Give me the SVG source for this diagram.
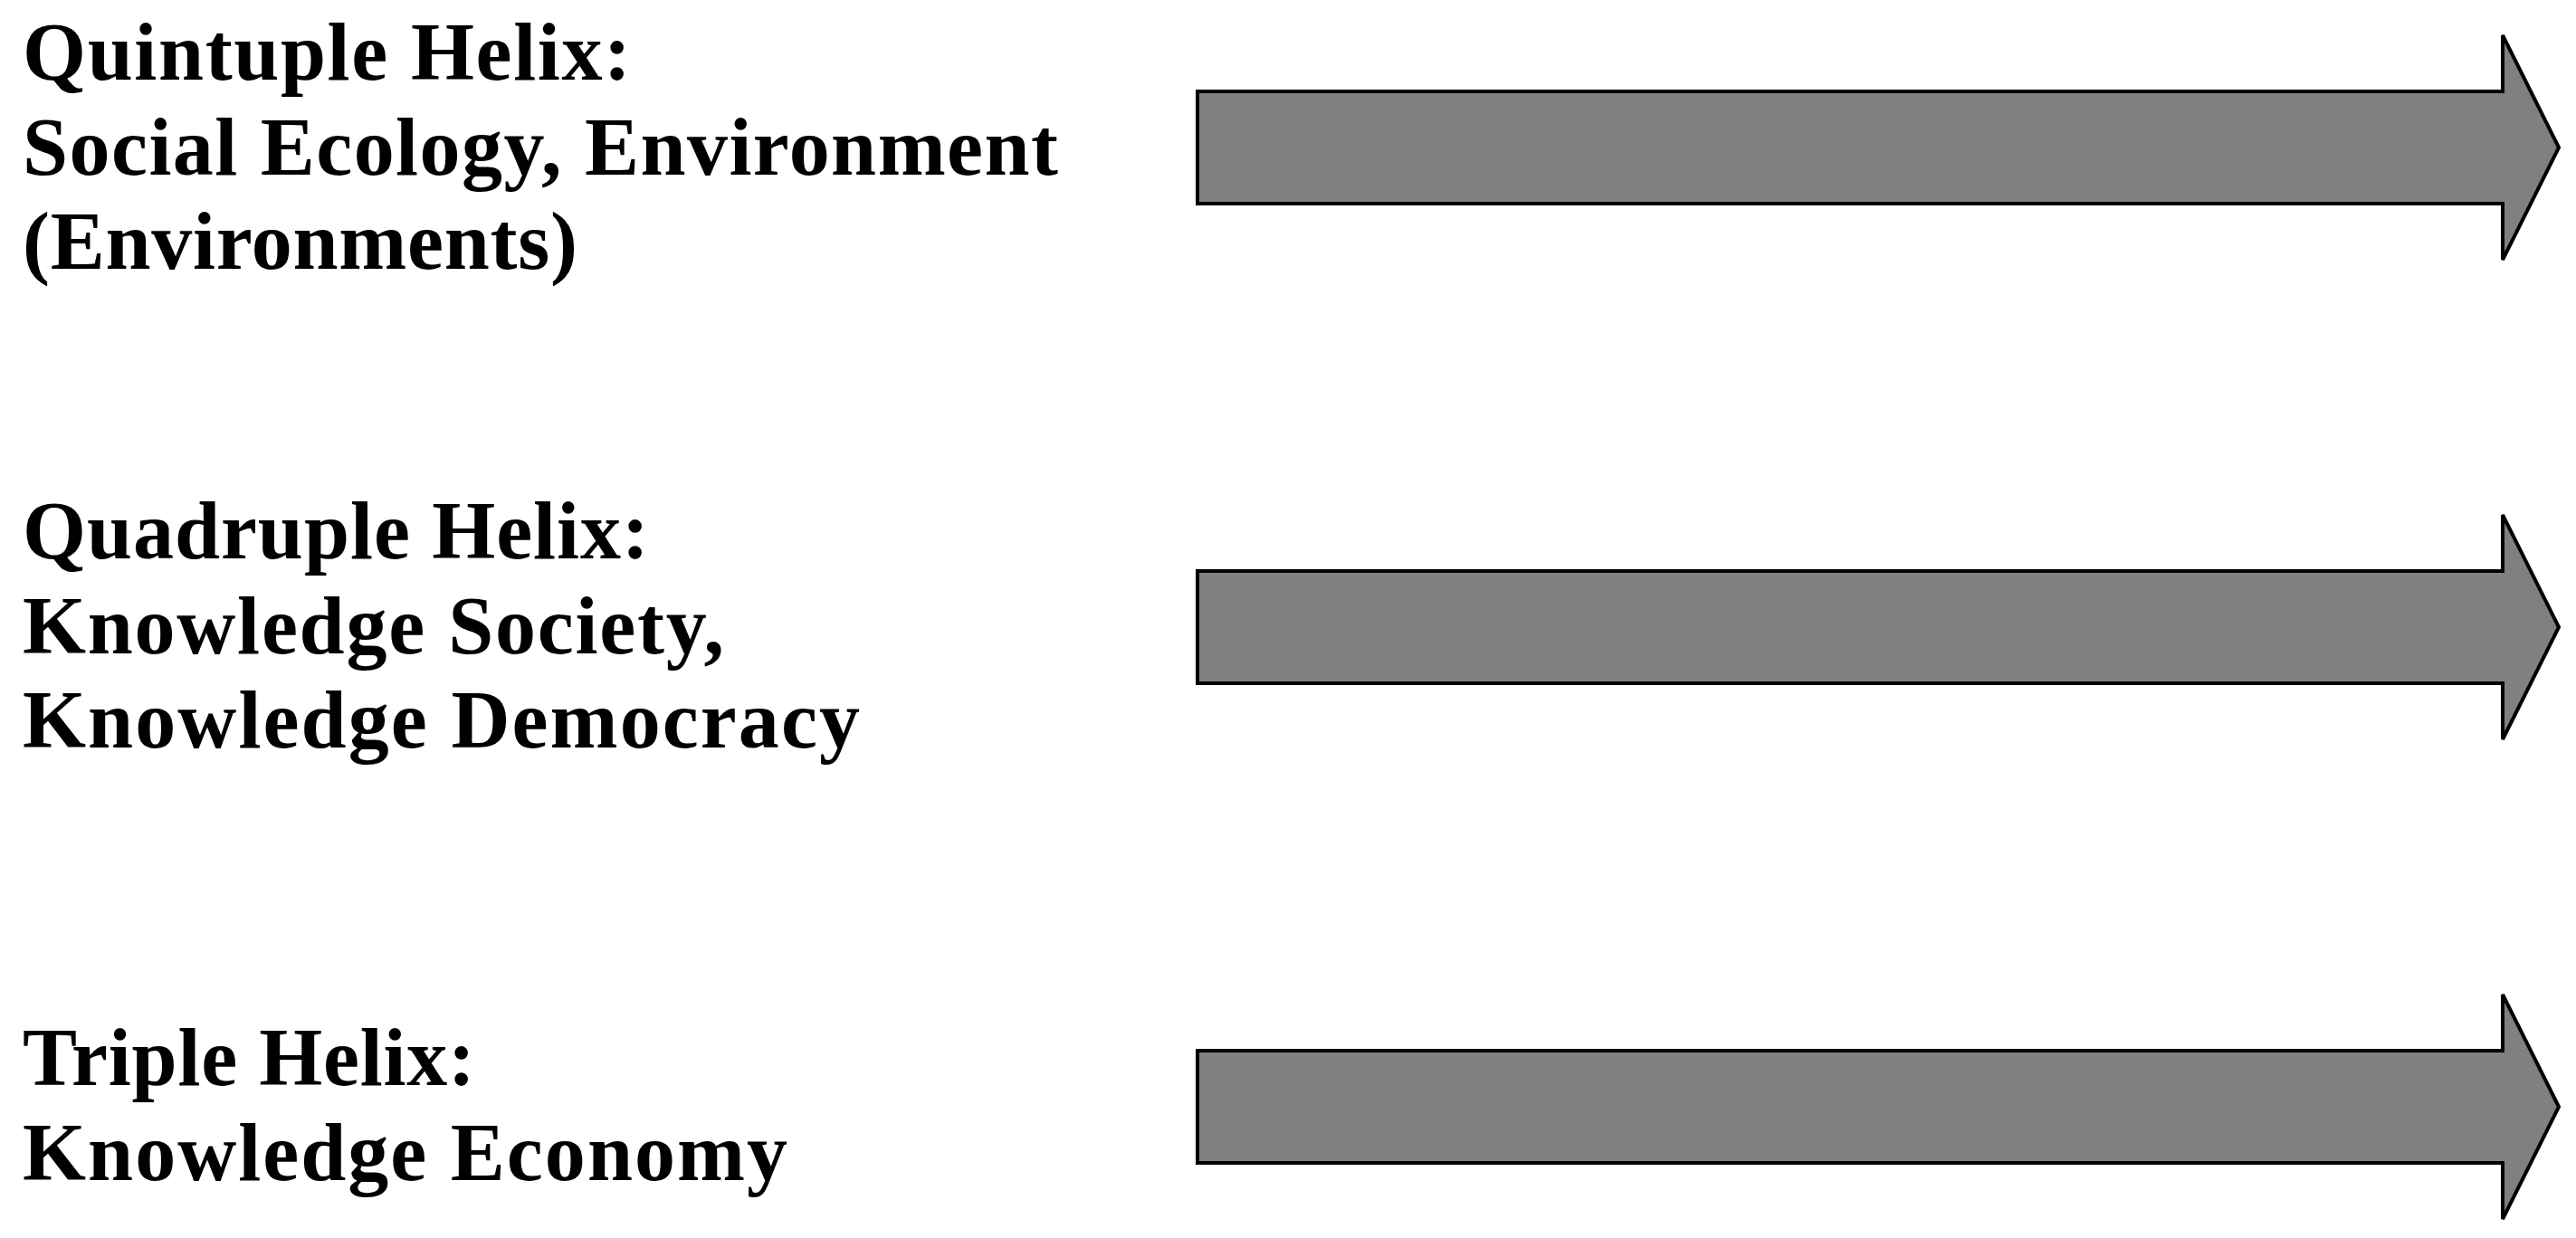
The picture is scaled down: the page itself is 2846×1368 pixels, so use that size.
<svg xmlns="http://www.w3.org/2000/svg" xmlns:xlink="http://www.w3.org/1999/xlink" width="2846" height="1368" viewBox="0 0 2846 1368">
<style>
.lbl{font-family:"Palatino Linotype","Book Antiqua",Palatino,"Liberation Serif",serif;font-weight:bold;font-size:90px;fill:#000}
.arr{fill:#808080;stroke:#000;stroke-width:4;stroke-linejoin:miter}
</style>
<defs>
<polygon id="bigArrow" class="arr" points="0,-62 1442,-62 1442,-124 1504,0 1442,124 1442,62 0,62"/>
</defs>
<rect width="2846" height="1368" fill="#fff"/>
<g id="quintuple">
<text class="lbl" x="25" y="88" textLength="672" lengthAdjust="spacing">Quintuple Helix:</text>
<text class="lbl" x="25" y="193" textLength="1144" lengthAdjust="spacing">Social Ecology, Environment</text>
<text class="lbl" x="25" y="297" textLength="613" lengthAdjust="spacing">(Environments)</text>
</g>
<g id="quadruple">
<text class="lbl" x="25" y="617" textLength="692" lengthAdjust="spacing">Quadruple Helix:</text>
<text class="lbl" x="25" y="722" textLength="775" lengthAdjust="spacing">Knowledge Society,</text>
<text class="lbl" x="25" y="826" textLength="925" lengthAdjust="spacing">Knowledge Democracy</text>
</g>
<g id="triple">
<text class="lbl" x="25" y="1199" textLength="500" lengthAdjust="spacing">Triple Helix:</text>
<text class="lbl" x="25" y="1304" textLength="845" lengthAdjust="spacing">Knowledge Economy</text>
</g>
<g id="arrows">
<use id="arrow-quintuple" xlink:href="#bigArrow" href="#bigArrow" transform="translate(1323,163)"/>
<use id="arrow-quadruple" xlink:href="#bigArrow" href="#bigArrow" transform="translate(1323,693)"/>
<use id="arrow-triple" xlink:href="#bigArrow" href="#bigArrow" transform="translate(1323,1223)"/>
</g>
</svg>
